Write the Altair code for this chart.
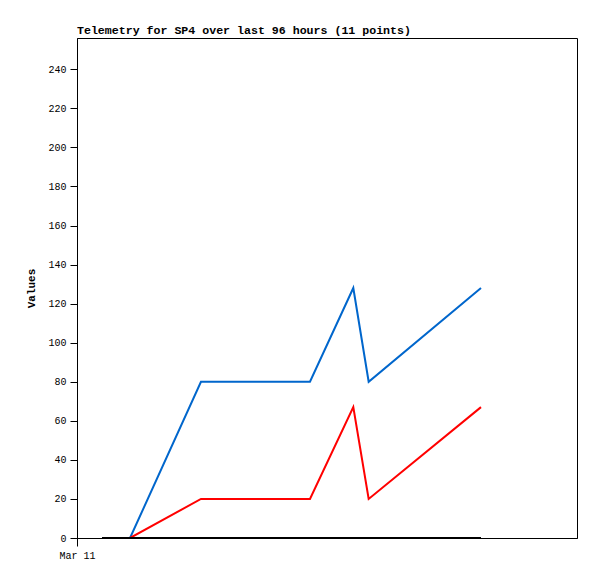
import altair as alt
import pandas as pd

# time stamps (local time)
times = ["2025-03-11T04:48", "2025-03-11T10:11", "2025-03-11T23:48",
         "2025-03-12T20:44", "2025-03-13T05:03", "2025-03-13T08:00",
         "2025-03-14T05:34"]
blue_vals = [0, 80, 80, 128, 80, 128]
red_vals = [0, 20, 20, 67, 20, 67]
black_vals = [0, 0, 0, 0, 0, 0, 0]
series_names = ["Series A", "Series B", "Series C"]
series_colors = ["#0066CC", "#FF0000", "#000000"]
y_ticks = list(range(0, 241, 20))

rows = []
for t, v in zip(times[1:], blue_vals):
    rows.append({"time": t, "value": v, "series": series_names[0], "order": 0})
for t, v in zip(times[1:], red_vals):
    rows.append({"time": t, "value": v, "series": series_names[1], "order": 1})
for t, v in zip(times, black_vals):
    rows.append({"time": t, "value": v, "series": series_names[2], "order": 2})
df = pd.DataFrame(rows)

font = "Liberation Mono"

chart = alt.Chart(df).mark_line(strokeWidth=2, clip=True).encode(
    x=alt.X("time:T",
            scale=alt.Scale(domain=[alt.DateTime(year=2025, month=3, date=11, hours=0),
                                    alt.DateTime(year=2025, month=3, date=15, hours=0)]),
            axis=alt.Axis(title=None, format="%b %d", grid=False,
                          values=[alt.DateTime(year=2025, month=3, date=11, hours=0)],
                          tickSize=8, labelPadding=4, labelFontSize=10,
                          labelFlush=False, labelAlign="center",
                          labelFont=font, labelColor="black",
                          domainColor="black", tickColor="black")),
    y=alt.Y("value:Q",
            scale=alt.Scale(domain=[0, 256], nice=False),
            axis=alt.Axis(title="Values", values=y_ticks, grid=False,
                          tickSize=7, labelPadding=4, labelFontSize=10,
                          labelFont=font, labelColor="black",
                          titleFont=font, titleFontSize=11, titleFontWeight="bold",
                          titleColor="black", titlePadding=11,
                          domainColor="black", tickColor="black")),
    color=alt.Color("series:N", scale=alt.Scale(domain=series_names, range=series_colors),
                    legend=None),
    detail="series:N",
).properties(
    width=500, height=500,
    title=alt.TitleParams("Telemetry for SP4 over last 96 hours (11 points)",
                          anchor="start", frame="group", font=font, fontSize=11.6,
                          fontWeight="bold", color="black", offset=1),
    autosize=alt.AutoSizeParams(type="none"),
    padding={"left": 69, "top": 30, "right": 12, "bottom": 30},
).configure_view(stroke="black", strokeWidth=1)

chart.save("out.html", embed_options={"renderer": "svg", "actions": False})
